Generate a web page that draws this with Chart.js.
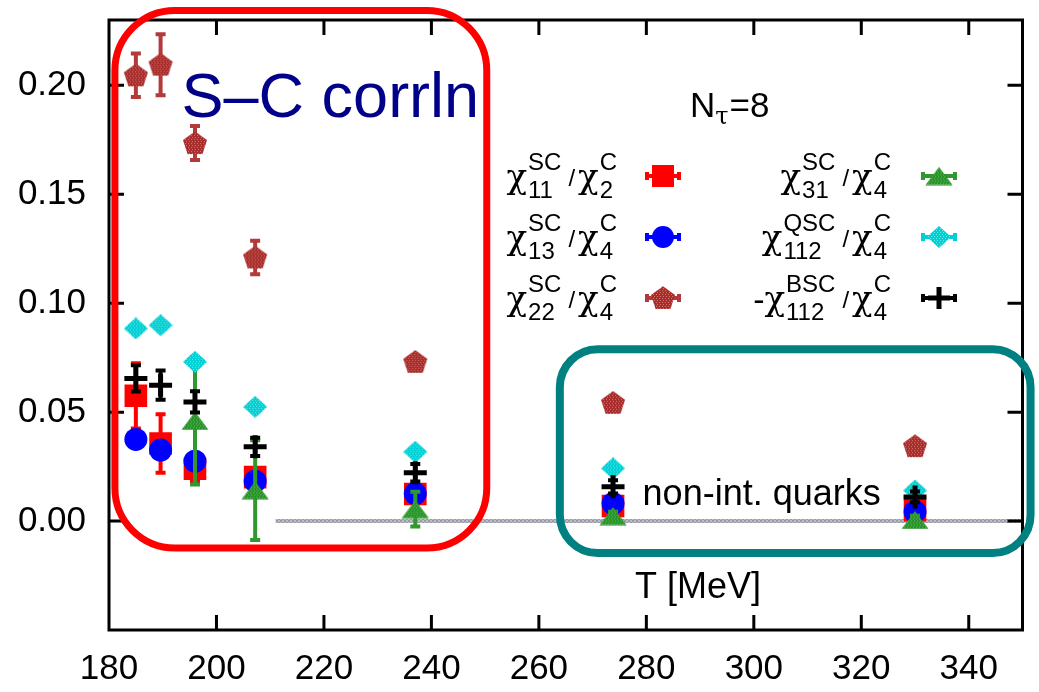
<!DOCTYPE html>
<html>
<head>
<meta charset="utf-8">
<title>S-C correlations, Nτ=8</title>
<script src="https://cdn.jsdelivr.net/npm/chart.js@4.4.1/dist/chart.umd.min.js"></script>
<style>
  html, body { margin: 0; padding: 0; background: #fff; }
  #wrap { width: 1039px; height: 692px; }
</style>
</head>
<body>
<div id="wrap"><canvas id="corrChart" width="1039" height="692"></canvas></div>
<script>
// temperatures of the Nτ=8 ensembles [MeV]
var temps = [185.0, 189.6, 196.0, 207.2, 237.0, 273.8, 330.0];

// ratios and their errors
var chi11SC = [0.0575, 0.0356, 0.0240, 0.0202, 0.0124, 0.0069, 0.0050];
var chi11SCErr = [0.0150, 0.0134, 0.0060, 0.0030, 0.0020, 0.0010, 0.0010];
var chi13SC = [0.0375, 0.0326, 0.0275, 0.0183, 0.0126, 0.0081, 0.0043];
var chi13SCErr = [0.0020, 0.0020, 0.0020, 0.0020, 0.0015, 0.0010, 0.0010];
var chi22SC = [0.2046, 0.2095, 0.1735, 0.1210, 0.0731, 0.0543, 0.0344];
var chi22SCErr = [0.0100, 0.0140, 0.0078, 0.0077, 0.0020, 0.0010, 0.0010];
var chi31SC = [null, null, 0.0460, 0.0142, 0.0055, 0.0023, 0.0005];
var chi31SCErr = [null, null, 0.0292, 0.0229, 0.0080, 0.0020, 0.0020];
var chi112QSC = [0.0884, 0.0899, 0.0731, 0.0524, 0.0318, 0.0242, 0.0140];
var chi112QSCErr = [0.0015, 0.0015, 0.0015, 0.0015, 0.0012, 0.0010, 0.0010];
var chi112BSC = [0.0655, 0.0624, 0.0547, 0.0341, 0.0222, 0.0157, 0.0111];
var chi112BSCErr = [0.0060, 0.0067, 0.0049, 0.0042, 0.0040, 0.0030, 0.0025];

// free quark limit
var freeT = [211, 350];
var freeVal = [0, 0];

// axis ticks
var xTicks = [180, 200, 220, 240, 260, 280, 300, 320, 340];
var yTicks = [0.00, 0.05, 0.10, 0.15, 0.20];

var FONT = '"Liberation Sans", Arial, Helvetica, sans-serif';
var GREEK = '"DejaVu Serif", "Liberation Serif", serif';
Chart.defaults.font.family = FONT;
Chart.defaults.color = '#000';

var ctx = document.getElementById('corrChart').getContext('2d');

// small speckled markers like the postscript terminal fills
function makeMarker(w, h, base, light, path) {
    var c = document.createElement('canvas');
    c.width = w; c.height = h;
    var g = c.getContext('2d');
    g.beginPath(); path(g, w, h); g.closePath();
    g.fillStyle = base; g.fill();
    g.save(); g.clip();
    g.fillStyle = light;
    for (var yy = 0; yy < h; yy += 2) {
        for (var xx = (yy / 2) % 2; xx < w; xx += 3) g.fillRect(xx, yy, 1, 1);
    }
    g.restore();
    return c;
}

var pentagon = makeMarker(26, 24, '#a82c2c', '#d07a70', function (g, w, h) {
    var R = 12.6, cx = w / 2, cy = 12.8;
    for (var k = 0; k < 5; k++) {
        var a = -Math.PI / 2 + k * 2 * Math.PI / 5;
        var px = cx + R * Math.cos(a), py = cy + R * Math.sin(a);
        if (k === 0) g.moveTo(px, py); else g.lineTo(px, py);
    }
});
var triangle = makeMarker(28, 19, '#2a922a', '#5fbf58', function (g, w, h) {
    g.moveTo(w / 2, 0.5); g.lineTo(w - 0.5, h - 0.5); g.lineTo(0.5, h - 0.5);
});
var diamond = makeMarker(24, 22, '#00cfd3', '#6ae8ea', function (g, w, h) {
    g.moveTo(w / 2, 0); g.lineTo(w, h / 2); g.lineTo(w / 2, h); g.lineTo(0, h / 2);
});

// grey texture for the free quark line
function lineTexture() {
    var c = document.createElement('canvas');
    c.width = 4; c.height = 4;
    var g = c.getContext('2d');
    g.fillStyle = '#bcbcc6'; g.fillRect(0, 0, 4, 4);
    g.fillStyle = '#9a9aa6'; g.fillRect(0, 0, 2, 2); g.fillRect(2, 2, 2, 2);
    return ctx.createPattern(c, 'repeat');
}

function pts(vals) {
    return temps.map(function (t, i) { return { x: t, y: vals[i] }; });
}

// error bars, drawn just before each dataset's markers
var errorBars = {
    id: 'errorBars',
    beforeDatasetDraw: function (chart, args) {
        var ds = chart.data.datasets[args.index];
        if (!ds.errors) return;
        var g = chart.ctx, a = chart.chartArea, ys = chart.scales.y, xs = chart.scales.x;
        g.save();
        g.beginPath(); g.rect(a.left, a.top, a.right - a.left, a.bottom - a.top); g.clip();
        g.strokeStyle = ds.errColor;
        g.lineWidth = 4;
        ds.data.forEach(function (p, i) {
            var e = ds.errors[i];
            if (p.y === null || e === null) return;
            var x = xs.getPixelForValue(p.x);
            var y1 = ys.getPixelForValue(p.y + e), y2 = ys.getPixelForValue(p.y - e);
            g.beginPath();
            g.moveTo(x, y1); g.lineTo(x, y2);
            g.moveTo(x - 5, y1); g.lineTo(x + 5, y1);
            g.moveTo(x - 5, y2); g.lineTo(x + 5, y2);
            g.stroke();
        });
        g.restore();
    }
};

// text with stacked super/subscripts; 'g' parts are greek letters
var MAIN = '34px ' + FONT, SMALL = '24px ' + FONT, CHI = '34px ' + GREEK;
function drawRich(g, parts, xRight, yc) {
    var items = [], w = 0;
    parts.forEach(function (p) {
        var pw;
        if (p[0] === 't') { g.font = MAIN; pw = g.measureText(p[1]).width; }
        else if (p[0] === 'g') { g.font = CHI; pw = g.measureText(p[1]).width + 1; }
        else if (p[0] === 's') { g.font = SMALL; pw = g.measureText(p[1]).width + 4; }
        else { g.font = SMALL; pw = Math.max(g.measureText(p[1]).width, g.measureText(p[2]).width) + 6; }
        items.push(pw); w += pw;
    });
    var x = xRight - w;
    g.textAlign = 'left';
    g.textBaseline = 'alphabetic';
    parts.forEach(function (p, i) {
        if (p[0] === 't') { g.font = MAIN; g.fillText(p[1], x, yc + 13); }
        else if (p[0] === 'g') { g.font = CHI; g.fillText(p[1], x, yc + 12); }
        else if (p[0] === 's') { g.font = SMALL; g.fillText(p[1], x + 1, yc + 10); }
        else {
            g.font = SMALL;
            g.fillText(p[1], x, yc - 6);
            g.fillText(p[2], x, yc + 22);
        }
        x += items[i];
    });
}

function drawKey(g, ds, x, y) {
    g.save();
    g.strokeStyle = ds.errColor;
    g.lineWidth = 4;
    g.beginPath();
    g.moveTo(x - 16, y); g.lineTo(x + 16, y);
    g.moveTo(x - 16, y - 4); g.lineTo(x - 16, y + 4);
    g.moveTo(x + 16, y - 4); g.lineTo(x + 16, y + 4);
    g.stroke();
    var s = ds.pointStyle;
    if (typeof s === 'object') {
        g.drawImage(s, x - s.width / 2, y - s.height / 2);
    } else if (s === 'rect') {
        g.fillStyle = ds.backgroundColor; g.fillRect(x - 11, y - 11, 22, 22);
    } else if (s === 'circle') {
        g.fillStyle = ds.backgroundColor; g.beginPath(); g.arc(x, y, 11, 0, 2 * Math.PI); g.fill();
    } else if (s === 'cross') {
        g.strokeStyle = '#000'; g.lineWidth = 5;
        g.beginPath(); g.moveTo(x - 11, y); g.lineTo(x + 11, y); g.moveTo(x, y - 11); g.lineTo(x, y + 11); g.stroke();
    }
    g.restore();
}

function roundBox(g, l, t, r, b, rad) {
    g.beginPath();
    g.moveTo(l + rad, t);
    g.arcTo(r, t, r, b, rad);
    g.arcTo(r, b, l, b, rad);
    g.arcTo(l, b, l, t, rad);
    g.arcTo(l, t, r, t, rad);
    g.closePath();
    g.stroke();
}

// frame, inward ticks, labels, key and the highlighted regions
var decorations = {
    id: 'decorations',
    afterDraw: function (chart) {
        var g = chart.ctx, a = chart.chartArea, xs = chart.scales.x, ys = chart.scales.y;
        var px = function (v) { return xs.getPixelForValue(v); };
        var py = function (v) { return ys.getPixelForValue(v); };
        g.save();

        g.strokeStyle = '#000';
        g.lineWidth = 3;
        g.strokeRect(a.left, a.top, a.right - a.left, a.bottom - a.top);
        g.beginPath();
        xTicks.forEach(function (v) {
            if (v <= xs.min || v >= xs.max) return;
            g.moveTo(px(v), a.bottom); g.lineTo(px(v), a.bottom - 15);
            g.moveTo(px(v), a.top); g.lineTo(px(v), a.top + 15);
        });
        yTicks.forEach(function (v) {
            g.moveTo(a.left, py(v)); g.lineTo(a.left + 15, py(v));
            g.moveTo(a.right, py(v)); g.lineTo(a.right - 15, py(v));
        });
        g.stroke();

        // highlighted regions
        g.lineWidth = 7;
        g.strokeStyle = '#ff0000';
        roundBox(g, px(181.1), py(0.2344), px(250.3), py(-0.0124), 60);
        g.lineWidth = 8;
        g.strokeStyle = '#008080';
        roundBox(g, px(263.9), py(0.0789), px(351.5), py(-0.0147), 38);

        g.textBaseline = 'alphabetic';
        g.fillStyle = '#000088';
        g.font = '63px ' + FONT;
        g.textAlign = 'left';
        g.fillText('S\u2013C corrln', px(193.5), py(0.1855));

        g.fillStyle = '#000';
        g.font = '36px ' + FONT;
        g.fillText('non-int. quarks', px(279.3), py(0.0073));
        g.textAlign = 'center';
        g.fillText('T [MeV]', px(289.6), py(-0.0353));

        // Nτ=8
        g.textAlign = 'left';
        var nx = a.left + 581, ny = a.top + 97;
        g.font = '35px ' + FONT;
        g.fillText('N', nx, ny);
        nx += g.measureText('N').width;
        g.font = '24px ' + GREEK;
        g.fillText('\u03c4', nx, ny + 7);
        nx += g.measureText('\u03c4').width + 1;
        g.font = '35px ' + FONT;
        g.fillText('=8', nx, ny);

        // key
        chart.data.datasets.forEach(function (ds) {
            if (!ds.keyParts) return;
            var yc = a.top + 156 + ds.keyRow * 61;
            var tx = ds.keyCol === 0 ? a.left + 514 : a.left + 788;
            var mx = ds.keyCol === 0 ? a.left + 554 : a.left + 830;
            g.fillStyle = '#000';
            drawRich(g, ds.keyParts, tx, yc);
            drawKey(g, ds, mx, yc);
        });
        g.restore();
    }
};

new Chart(ctx, {
    type: 'scatter',
    data: {
        datasets: [
            {
                data: freeT.map(function (t, i) { return { x: t, y: freeVal[i] }; }),
                showLine: true,
                borderColor: lineTexture(),
                borderWidth: 4,
                pointRadius: 0,
                order: 10
            },
            {
                data: pts(chi11SC), errors: chi11SCErr, errColor: '#ff0000',
                pointStyle: 'rect', pointRadius: 16, backgroundColor: '#ff0000', borderWidth: 0,
                keyParts: [['g', '\u03c7'], ['ss', 'SC', '11'], ['s', '/'], ['g', '\u03c7'], ['ss', 'C', '2']],
                keyCol: 0, keyRow: 0, order: 6
            },
            {
                data: pts(chi13SC), errors: chi13SCErr, errColor: '#0000ff',
                pointStyle: 'circle', pointRadius: 11.5, backgroundColor: '#0000ff', borderWidth: 0,
                keyParts: [['g', '\u03c7'], ['ss', 'SC', '13'], ['s', '/'], ['g', '\u03c7'], ['ss', 'C', '4']],
                keyCol: 0, keyRow: 1, order: 5
            },
            {
                data: pts(chi22SC), errors: chi22SCErr, errColor: '#b23a3a',
                pointStyle: pentagon, pointRadius: 12, backgroundColor: '#a82c2c', borderWidth: 0,
                keyParts: [['g', '\u03c7'], ['ss', 'SC', '22'], ['s', '/'], ['g', '\u03c7'], ['ss', 'C', '4']],
                keyCol: 0, keyRow: 2, order: 4
            },
            {
                data: pts(chi31SC), errors: chi31SCErr, errColor: '#2f982f',
                pointStyle: triangle, pointRadius: 12, backgroundColor: '#2a922a', borderWidth: 0,
                keyParts: [['g', '\u03c7'], ['ss', 'SC', '31'], ['s', '/'], ['g', '\u03c7'], ['ss', 'C', '4']],
                keyCol: 1, keyRow: 0, order: 3
            },
            {
                data: pts(chi112QSC), errors: chi112QSCErr, errColor: '#00cfd3',
                pointStyle: diamond, pointRadius: 12, backgroundColor: '#00cfd3', borderWidth: 0,
                keyParts: [['g', '\u03c7'], ['ss', 'QSC', '112'], ['s', '/'], ['g', '\u03c7'], ['ss', 'C', '4']],
                keyCol: 1, keyRow: 1, order: 2
            },
            {
                data: pts(chi112BSC), errors: chi112BSCErr, errColor: '#000000',
                pointStyle: 'cross', pointRadius: 11.5, borderColor: '#000', borderWidth: 5,
                keyParts: [['t', '-'], ['g', '\u03c7'], ['ss', 'BSC', '112'], ['s', '/'], ['g', '\u03c7'], ['ss', 'C', '4']],
                keyCol: 1, keyRow: 2, order: 1
            }
        ]
    },
    options: {
        responsive: false,
        animation: false,
        layout: { padding: { top: 20, right: 14, left: 0, bottom: 0 } },
        scales: {
            x: {
                type: 'linear', min: 180, max: 350,
                afterFit: function (s) { s.height = 62; s.paddingLeft = 0; s.paddingRight = 0; },
                afterBuildTicks: function (s) { s.ticks = xTicks.map(function (v) { return { value: v }; }); },
                grid: { display: false, drawTicks: false },
                border: { display: false },
                ticks: { font: { size: 35 }, padding: 18, maxRotation: 0, color: '#000' }
            },
            y: {
                type: 'linear', min: -0.05, max: 0.23,
                afterFit: function (s) { s.width = 109; s.paddingTop = 0; s.paddingBottom = 0; },
                afterBuildTicks: function (s) { s.ticks = yTicks.map(function (v) { return { value: v }; }); },
                grid: { display: false, drawTicks: false },
                border: { display: false },
                ticks: {
                    font: { size: 35 }, padding: 23, color: '#000',
                    callback: function (v) { return v.toFixed(2); }
                }
            }
        },
        plugins: {
            legend: { display: false },
            tooltip: { enabled: false }
        }
    },
    plugins: [errorBars, decorations]
});
</script>
</body>
</html>
